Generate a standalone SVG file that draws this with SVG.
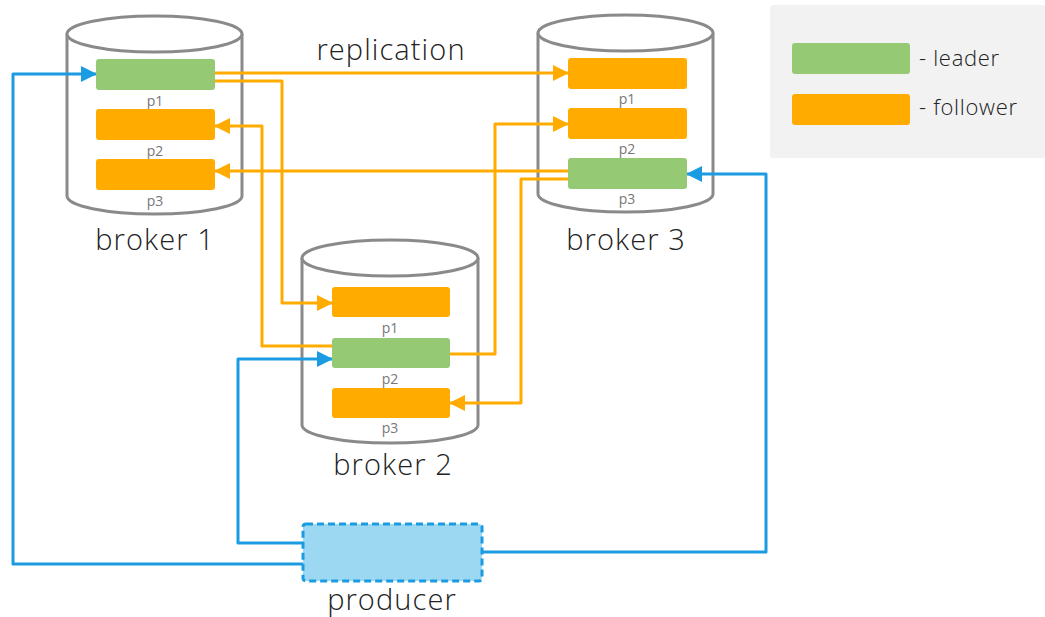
<svg xmlns="http://www.w3.org/2000/svg" width="1045" height="617" viewBox="0 0 1045 617">
  <style>
    .cyl { fill: #ffffff; stroke: #8a8a8a; stroke-width: 3; }
    .leader { fill: #96c973; }
    .follower { fill: #ffab00; }
    .plabel { font-family: "Open Sans", "Liberation Sans", sans-serif; font-size: 14px; fill: #777777; text-anchor: middle; }
    .title { font-family: "Open Sans", "Liberation Sans", sans-serif; font-weight: 300; font-size: 29px; fill: #222222; text-anchor: middle; letter-spacing: 1.1px; }
    .legend { font-family: "Open Sans", "Liberation Sans", sans-serif; font-weight: 300; font-size: 22px; fill: #222222; letter-spacing: 0.7px; }
    .rep { fill: none; stroke: #ffab00; stroke-width: 3; stroke-linejoin: round; }
    .prod { fill: none; stroke: #1b9ce2; stroke-width: 3; stroke-linejoin: round; }
  </style>
  <defs>
    <marker id="arrowOrange" markerUnits="userSpaceOnUse" markerWidth="16" markerHeight="16" viewBox="0 0 16 16" refX="15" refY="8" orient="auto">
      <path d="M0,0 L16,8 L0,16 Z" fill="#ffab00"/>
    </marker>
    <marker id="arrowBlue" markerUnits="userSpaceOnUse" markerWidth="16" markerHeight="16" viewBox="0 0 16 16" refX="15" refY="8" orient="auto">
      <path d="M0,0 L16,8 L0,16 Z" fill="#1b9ce2"/>
    </marker>
  </defs>

  <rect width="1045" height="617" fill="#ffffff"/>

  <!-- legend -->
  <g id="legend">
    <rect x="770" y="5" width="275" height="153" rx="3" fill="#f2f2f2"/>
    <rect x="792" y="43" width="118" height="31" rx="3" class="leader"/>
    <text x="919" y="66" class="legend">- leader</text>
    <rect x="792" y="94" width="118" height="31" rx="3" class="follower"/>
    <text x="919" y="115" class="legend">- follower</text>
  </g>

  <!-- broker bodies -->
  <g id="broker1-body">
    <path class="cyl" d="M67,34 V196 A87.5,18 0 0 0 242,196 V34"/>
    <ellipse class="cyl" cx="154.5" cy="34" rx="87.5" ry="18"/>
  </g>
  <g id="broker3-body">
    <path class="cyl" d="M538,33 V194 A87.5,18 0 0 0 713,194 V33"/>
    <ellipse class="cyl" cx="625.5" cy="33" rx="87.5" ry="18"/>
  </g>
  <g id="broker2-body">
    <path class="cyl" d="M302,258 V425 A88,18 0 0 0 478,425 V258"/>
    <ellipse class="cyl" cx="390" cy="258" rx="88" ry="18"/>
  </g>

  <!-- connectors -->
  <g id="connectors">
    <path class="rep" d="M215,73 H568" marker-end="url(#arrowOrange)"/>
    <path class="rep" d="M215,81 H282 V303 H332" marker-end="url(#arrowOrange)"/>
    <path class="rep" d="M332,346 H262 V126 H215" marker-end="url(#arrowOrange)"/>
    <path class="rep" d="M450,354 H495 V124 H568" marker-end="url(#arrowOrange)"/>
    <path class="rep" d="M568,171 H215" marker-end="url(#arrowOrange)"/>
    <path class="rep" d="M568,179 H521 V403 H450" marker-end="url(#arrowOrange)"/>
    <path class="prod" d="M303,564 H13 V74 H96" marker-end="url(#arrowBlue)"/>
    <path class="prod" d="M303,543 H238 V359 H332" marker-end="url(#arrowBlue)"/>
    <path class="prod" d="M482,552 H766 V174 H687" marker-end="url(#arrowBlue)"/>
  </g>

  <text x="391" y="60" class="title">replication</text>

  <!-- broker 1 partitions -->
  <g id="broker1">
    <rect x="96" y="59" width="119" height="31" rx="3" class="leader"/>
    <text x="155" y="106" class="plabel">p1</text>
    <rect x="96" y="109" width="119" height="31" rx="3" class="follower"/>
    <text x="155" y="156" class="plabel">p2</text>
    <rect x="96" y="159" width="119" height="31" rx="3" class="follower"/>
    <text x="155" y="206" class="plabel">p3</text>
    <text x="155" y="250" class="title">broker 1</text>
  </g>

  <!-- broker 3 partitions -->
  <g id="broker3">
    <rect x="568" y="58" width="119" height="31" rx="3" class="follower"/>
    <text x="627" y="104" class="plabel">p1</text>
    <rect x="568" y="108" width="119" height="31" rx="3" class="follower"/>
    <text x="627" y="154" class="plabel">p2</text>
    <rect x="568" y="158" width="119" height="31" rx="3" class="leader"/>
    <text x="627" y="204" class="plabel">p3</text>
    <text x="626" y="250" class="title">broker 3</text>
  </g>

  <!-- broker 2 partitions -->
  <g id="broker2">
    <rect x="332" y="287" width="118" height="30" rx="3" class="follower"/>
    <text x="390" y="333" class="plabel">p1</text>
    <rect x="332" y="338" width="118" height="30" rx="3" class="leader"/>
    <text x="390" y="384" class="plabel">p2</text>
    <rect x="332" y="388" width="118" height="30" rx="3" class="follower"/>
    <text x="390" y="433" class="plabel">p3</text>
    <text x="393" y="475" class="title">broker 2</text>
  </g>

  <!-- producer -->
  <g id="producer">
    <rect x="303" y="524" width="179" height="57" rx="3" fill="#9dd8f3" stroke="#1b9ce2" stroke-width="3" stroke-dasharray="7,4"/>
    <text x="392" y="610" class="title">producer</text>
  </g>
</svg>
